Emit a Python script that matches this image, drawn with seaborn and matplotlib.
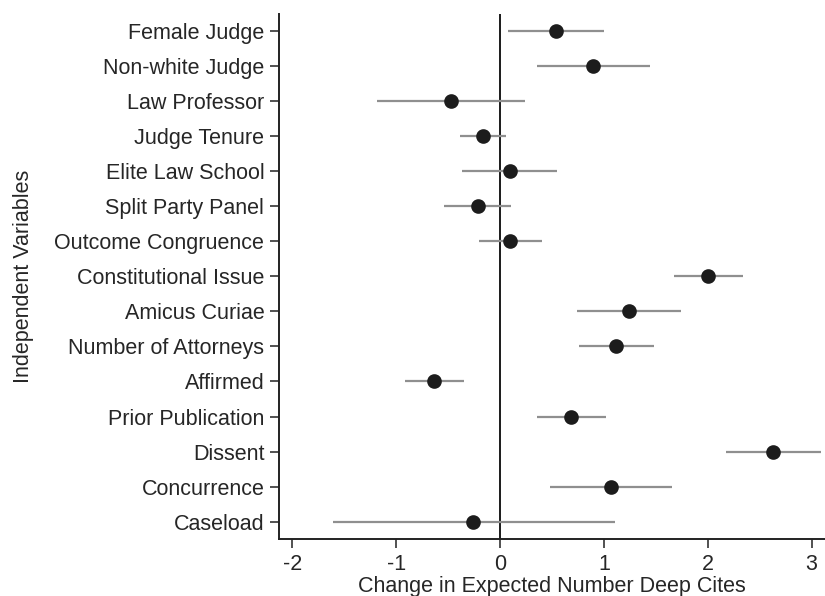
import pandas as pd
import matplotlib
matplotlib.use('Agg')
import matplotlib.pyplot as plt
import seaborn as sns

# 变量名和估计值
variables = ['Female Judge', 'Non-white Judge', 'Law Professor', 'Judge Tenure',
             'Elite Law School', 'Split Party Panel', 'Outcome Congruence',
             'Constitutional Issue', 'Amicus Curiae', 'Number of Attorneys',
             'Affirmed', 'Prior Publication', 'Dissent', 'Concurrence', 'Caseload']
estimate = [0.536, 0.892, -0.472, -0.168, 0.092, -0.216, 0.099, 2.006,
            1.244, 1.121, -0.633, 0.687, 2.632, 1.067, -0.264]
lower = [0.075, 0.352, -1.18, -0.383, -0.363, -0.54, -0.205, 1.678,
         0.745, 0.762, -0.917, 0.355, 2.174, 0.482, -1.61]
upper = [0.998, 1.442, 0.236, 0.054, 0.547, 0.109, 0.403, 2.338,
         1.743, 1.48, -0.342, 1.018, 3.093, 1.658, 1.104]
xticks = [-2, -1, 0, 1, 2, 3]

df = pd.DataFrame({'Variable': variables, 'Estimate': estimate,
                   'Lower': lower, 'Upper': upper})

sns.set_style('ticks')
plt.rcParams['font.family'] = ['Liberation Sans', 'DejaVu Sans']

fig = plt.figure(figsize=(8.25, 5.96), dpi=100)
ax = fig.add_axes([0.338, 0.0956, 0.662, 0.881])

# 置信区间
ax.hlines(y=range(len(df)), xmin=df['Lower'], xmax=df['Upper'],
          color='#8f8f8f', linewidth=1.6, zorder=2)
ax.axvline(0, color='#1a1a1a', linewidth=1.4, zorder=1)

sns.pointplot(data=df, x='Estimate', y='Variable', order=variables,
              linestyle='none', marker='o', markersize=8.5,
              color='#1c1c1c', ax=ax, zorder=3)

ax.set_xlim(-2.13, 3.13)
ax.set_ylim(len(df) - 0.5, -0.5)
ax.set_xticks(xticks)
ax.set_xticklabels([str(t) for t in xticks])
ax.set_xlabel('Change in Expected Number Deep Cites', fontsize=15.5, labelpad=1)
ax.set_ylabel('Independent Variables', fontsize=15.5, labelpad=15)
ax.tick_params(axis='both', labelsize=15.5, length=6.5, width=1.2,
               color='#333333', direction='out')
ax.tick_params(axis='x', pad=4)
ax.tick_params(axis='y', pad=4)

sns.despine(ax=ax)
for s in ['left', 'bottom']:
    ax.spines[s].set_linewidth(1.4)
    ax.spines[s].set_color('#222222')

fig.savefig('out.png', dpi=100)
